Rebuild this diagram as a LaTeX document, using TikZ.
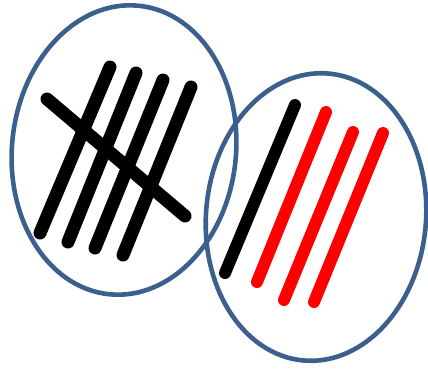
\documentclass[tikz,border=0pt]{standalone}
\definecolor{ringblue}{RGB}{60,96,142}
\begin{document}
\begin{tikzpicture}[x=1pt,y=-1pt,
  ring/.style={draw=ringblue,line width=4.6pt},
  tally/.style={line width=13pt,line cap=round},
  tallythin/.style={line width=12pt,line cap=round}]
\useasboundingbox (0,0) rectangle (428,368);
% left group
\draw[ring,shift={(124,150)},rotate=-6] (0,0) ellipse [x radius=112,y radius=145];
\coordinate (a1) at (110,67); \coordinate (b1) at (40,233);
\coordinate (a2) at (136,73); \coordinate (b2) at (68,242);
\coordinate (a3) at (163,80); \coordinate (b3) at (95,248);
\coordinate (a4) at (191,87); \coordinate (b4) at (123,255);
\coordinate (c1) at (47,99);  \coordinate (c2) at (185,216);
\draw[tally,black] (a1) -- (b1);
\draw[tally,black] (a2) -- (b2);
\draw[tally,black] (a3) -- (b3);
\draw[tally,black] (a4) -- (b4);
\draw[tally,black] (c1) -- (c2);
% right group
\draw[ring,shift={(316,217)},rotate=-5] (0,0) ellipse [x radius=110,y radius=144];
\coordinate (r0a) at (295,105); \coordinate (r0b) at (225,273);
\coordinate (r1a) at (326,112); \coordinate (r1b) at (257,282);
\coordinate (r2a) at (353,132); \coordinate (r2b) at (284,300);
\coordinate (r3a) at (383,133); \coordinate (r3b) at (314,302);
\draw[tallythin,black] (r0a) -- (r0b);
\draw[tallythin,red] (r1a) -- (r1b);
\draw[tallythin,red] (r2a) -- (r2b);
\draw[tallythin,red] (r3a) -- (r3b);
\end{tikzpicture}
\end{document}
